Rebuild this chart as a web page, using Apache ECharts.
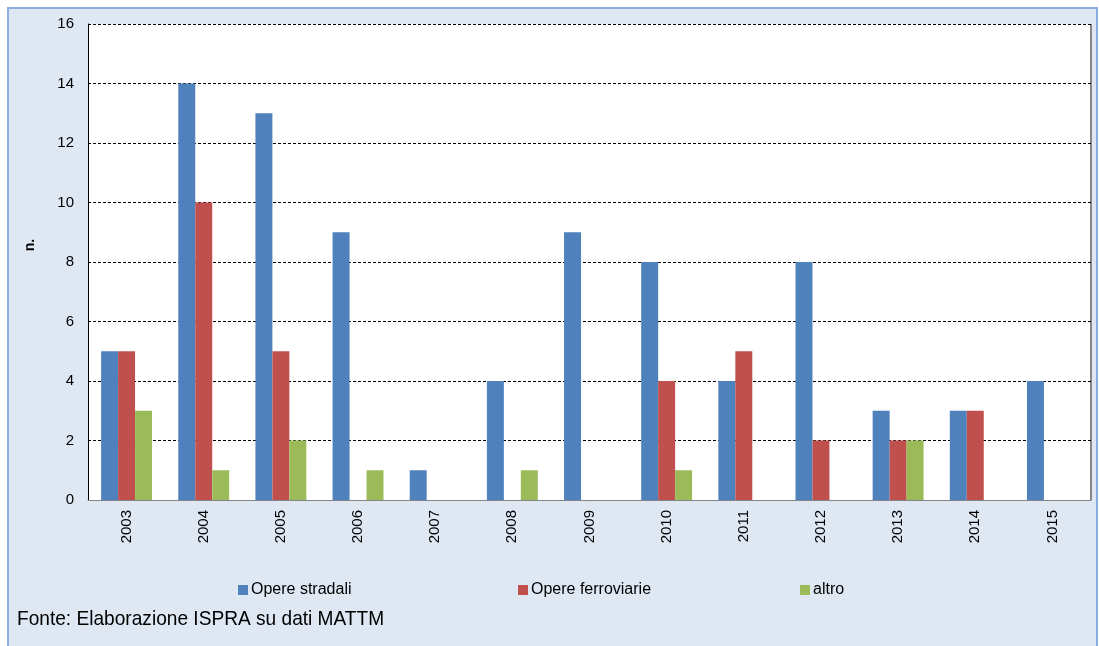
<!DOCTYPE html>
<html>
<head>
<meta charset="UTF-8">
<title>Opere</title>
<script src="https://cdn.jsdelivr.net/npm/echarts@6/dist/echarts.min.js"></script>
<style>
    html, body { margin: 0; padding: 0; background: #ffffff; overflow: hidden; }
    #frame {
        position: absolute; left: 7px; top: 7px; width: 1087px; height: 700px;
        background: #dfe7f3; border: 2px solid #8aaede;
    }
    #chart { position: absolute; left: 0; top: 0; width: 1099px; height: 646px; }
</style>
</head>
<body>
<div id="frame"></div>
<div id="chart"></div>
<script>
// dati
var anni = ['2003', '2004', '2005', '2006', '2007', '2008', '2009', '2010', '2011', '2012', '2013', '2014', '2015'];
var opereStradali = [5, 14, 13, 9, 1, 4, 9, 8, 4, 8, 3, 3, 4];
var opereFerroviarie = [5, 10, 5, 0, 0, 0, 0, 4, 5, 2, 2, 3, 0];
var altro = [3, 1, 2, 1, 0, 1, 0, 1, 0, 0, 2, 0, 0];
var yTicks = [0, 2, 4, 6, 8, 10, 12, 14, 16];

var font = 'Liberation Sans, Arial, sans-serif';

function legenda(nome, left) {
    return {
        data: [nome], left: left, top: 577, icon: 'rect',
        itemWidth: 10, itemHeight: 10, itemGap: 2,
        textStyle: { fontFamily: font, fontSize: 16, color: '#000', padding: [0, 0, 0, -2] }
    };
}

var chart = echarts.init(document.getElementById('chart'));
chart.setOption({
    animation: false,
    backgroundColor: 'transparent',
    grid: { left: 88, right: 8, top: 24, bottom: 146, show: true, backgroundColor: '#ffffff', borderWidth: 0 },
    legend: [
        legenda('Opere stradali', 233),
        legenda('Opere ferroviarie', 513),
        legenda('altro', 795)
    ],
    graphic: [
        { type: 'line', shape: { x1: 1091, y1: 24, x2: 1091, y2: 500 }, style: { stroke: '#868686', lineWidth: 2 } },
        { type: 'text', x: 30, y: 245, rotation: Math.PI / 2,
          style: { text: 'n.', font: 'bold 14px ' + font, fill: '#000', align: 'center', verticalAlign: 'middle' } },
        { type: 'text', x: 17, y: 609, scaleX: 0.91,
          style: { text: 'Fonte: Elaborazione ISPRA su dati MATTM', font: '21px ' + font, fill: '#000' } }
    ],
    xAxis: {
        type: 'category', data: anni,
        axisLine: { lineStyle: { color: '#868686', width: 1 } },
        axisTick: { length: 5, lineStyle: { color: '#868686' } },
        axisLabel: { rotate: 90, margin: 10, fontFamily: font, fontSize: 15, color: '#000' }
    },
    yAxis: {
        type: 'value', min: 0, max: 16, interval: 2,
        axisLine: { show: true, lineStyle: { color: '#000', width: 1 } },
        axisTick: { show: false },
        axisLabel: {
            margin: 14, fontFamily: font, fontSize: 15, color: '#000',
            formatter: function (v) { return yTicks.indexOf(v) >= 0 ? String(v) : ''; }
        },
        splitLine: { lineStyle: { color: '#000', type: [3, 2], width: 1 } }
    },
    series: [
        { name: 'Opere stradali', type: 'bar', data: opereStradali, barGap: '0%', barCategoryGap: '34%',
          itemStyle: { color: '#4f81bd' } },
        { name: 'Opere ferroviarie', type: 'bar', data: opereFerroviarie,
          itemStyle: { color: '#c0504d' } },
        { name: 'altro', type: 'bar', data: altro,
          itemStyle: { color: '#9bbb59' } }
    ]
});
</script>
</body>
</html>
